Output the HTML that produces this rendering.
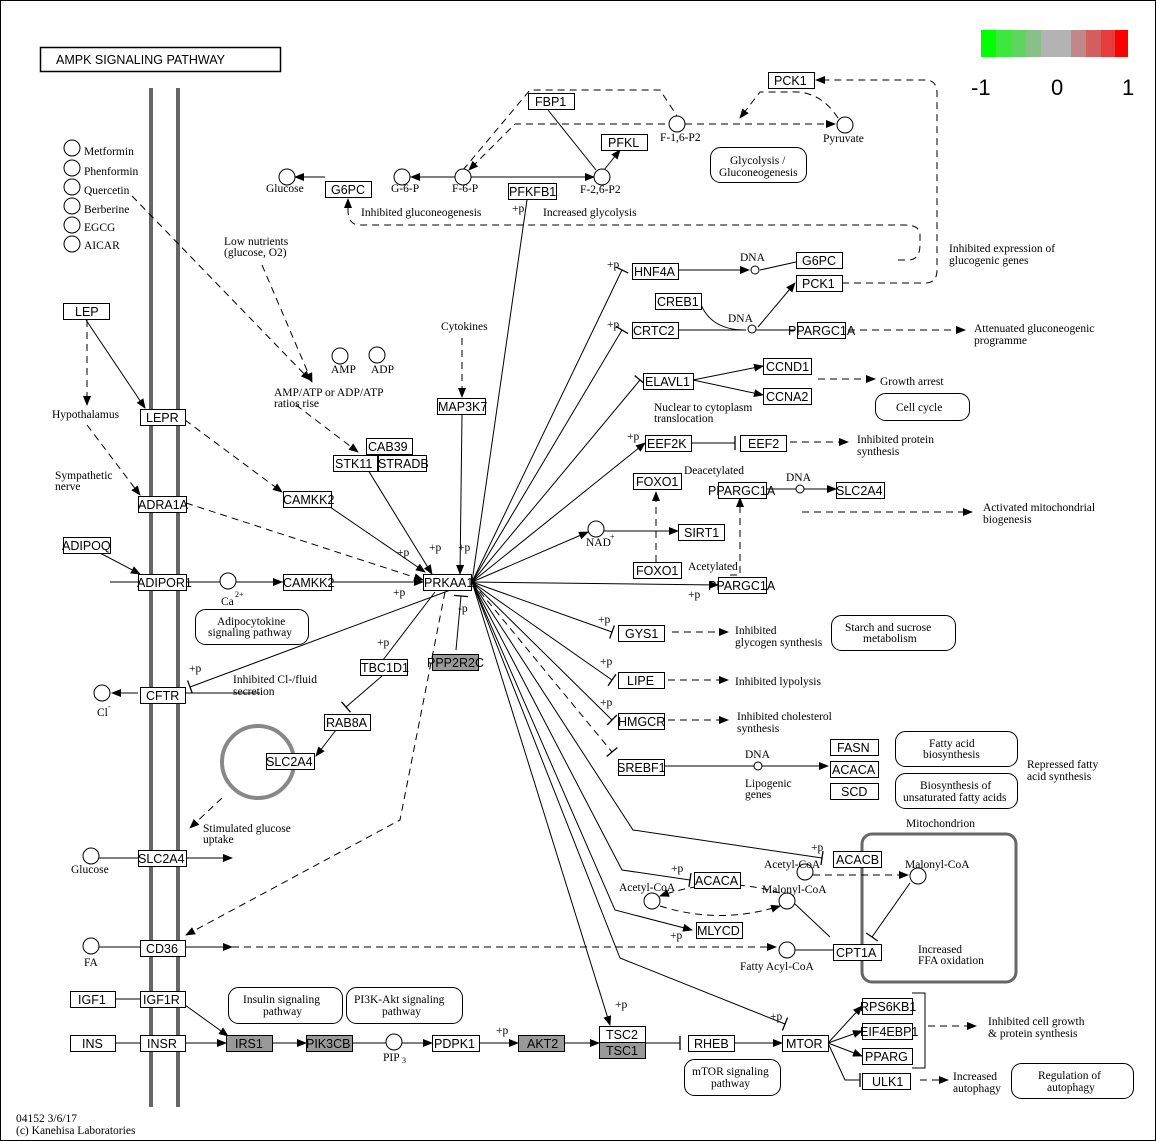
<!DOCTYPE html>
<html><head><meta charset="utf-8">
<style>
html,body{margin:0;padding:0;background:#fff;}
svg{display:block}
.g{font-family:"Liberation Sans",sans-serif;font-size:12.5px;fill:#000}
.l{font-family:"Liberation Serif",serif;font-size:11.5px;fill:#000}
.b{fill:#fff;stroke:#000;stroke-width:1}
.gr{fill:#999;stroke:#000;stroke-width:1}
.c{fill:#fff;stroke:#000;stroke-width:1}
.e{stroke:#000;stroke-width:1;fill:none}
.d{stroke:#000;stroke-width:1;fill:none;stroke-dasharray:7,5}
.r{fill:#fff;stroke:#000;stroke-width:1}
</style></head><body>
<svg width="1156" height="1141" viewBox="0 0 1156 1141" xmlns="http://www.w3.org/2000/svg">
<defs>
<marker id="a" markerWidth="10" markerHeight="8" refX="9" refY="4" orient="auto" markerUnits="userSpaceOnUse"><path d="M0,0L10,4L0,8z" fill="#000"/></marker>
<marker id="t" markerWidth="3" markerHeight="14" refX="1.5" refY="7" orient="auto" markerUnits="userSpaceOnUse"><path d="M1.5,0V14" stroke="#000" stroke-width="1.3"/></marker>
</defs>
<rect x="0.5" y="0.5" width="1155" height="1140" fill="#fff" stroke="#000"/>
<rect x="40.5" y="47.5" width="240" height="24" fill="#fff" stroke="#000" stroke-width="1.5"/>
<text x="56" y="64" class="g" style="font-size:12.5px">AMPK  SIGNALING  PATHWAY</text>
<g>
<rect x="981" y="30" width="15" height="27" fill="#00ff00"/><rect x="996" y="30" width="15" height="27" fill="#3be83b"/><rect x="1011" y="30" width="15" height="27" fill="#5fd45f"/><rect x="1026" y="30" width="15" height="27" fill="#88c088"/><rect x="1041" y="30" width="15" height="27" fill="#b3b3b3"/><rect x="1056" y="30" width="15" height="27" fill="#b3b3b3"/><rect x="1071" y="30" width="15" height="27" fill="#c08888"/><rect x="1086" y="30" width="15" height="27" fill="#d45f5f"/><rect x="1101" y="30" width="14" height="27" fill="#e83b3b"/><rect x="1115" y="30" width="13" height="27" fill="#ff0000"/>
<text x="971" y="95" class="g" style="font-size:22px">-1</text><text x="1051" y="95" class="g" style="font-size:22px">0</text><text x="1122" y="95" class="g" style="font-size:22px">1</text>
</g>
<line x1="151" y1="88" x2="151" y2="1107" stroke="#666" stroke-width="4"/>
<line x1="178" y1="88" x2="178" y2="1107" stroke="#666" stroke-width="4"/>
<rect x="862" y="834" width="154" height="148" rx="10" fill="none" stroke="#666" stroke-width="3"/>
<text x="906" y="827" class="l">Mitochondrion</text>
<circle cx="258" cy="762" r="36" fill="none" stroke="#888" stroke-width="4"/>

<g class="e">
<line x1="472" y1="582" x2="529" y2="186" marker-end="url(#a)"/>
<line x1="472" y1="582" x2="622" y2="270" marker-end="url(#t)"/>
<line x1="472" y1="582" x2="622" y2="330" marker-end="url(#t)"/>
<line x1="472" y1="582" x2="640" y2="380" marker-end="url(#t)"/>
<line x1="472" y1="582" x2="645" y2="443" marker-end="url(#a)"/>
<line x1="472" y1="582" x2="588" y2="532" marker-end="url(#a)"/>
<line x1="472" y1="582" x2="718" y2="585" marker-end="url(#a)"/>
<line x1="472" y1="582" x2="612" y2="632" marker-end="url(#t)"/>
<line x1="472" y1="582" x2="612" y2="680" marker-end="url(#t)"/>
<line x1="472" y1="582" x2="612" y2="720" marker-end="url(#t)"/>
<polyline points="472,582 633,830 822,858" marker-end="url(#t)"/>
<polyline points="472,582 622,870 690,880" marker-end="url(#t)"/>
<polyline points="472,582 615,910 692,930" marker-end="url(#a)"/>
<line x1="472" y1="582" x2="610" y2="1025" marker-end="url(#a)"/>
<polyline points="472,582 620,958 785,1024" marker-end="url(#t)"/>
<line x1="456" y1="650" x2="461" y2="596" marker-end="url(#t)"/>
<line x1="383" y1="660" x2="435" y2="592"/>
<line x1="472" y1="582" x2="190" y2="687" marker-end="url(#t)"/>
<line x1="368" y1="470" x2="432" y2="574" marker-end="url(#a)"/>
<line x1="462" y1="414" x2="460" y2="574" marker-end="url(#a)"/>
<line x1="330" y1="507" x2="425" y2="572" marker-end="url(#a)"/>
<line x1="186" y1="582" x2="423" y2="582" marker-end="url(#a)"/>
<line x1="110" y1="582" x2="138" y2="582"/>
<line x1="186" y1="582" x2="220" y2="582"/>
<line x1="236" y1="582" x2="282" y2="582" marker-end="url(#a)"/>
<line x1="86" y1="320" x2="145" y2="408" marker-end="url(#a)"/>
<line x1="100" y1="553" x2="140" y2="574" marker-end="url(#a)"/>
<line x1="138" y1="693" x2="112" y2="693" marker-end="url(#a)"/>
<line x1="186" y1="693" x2="260" y2="693"/>
<line x1="382" y1="676" x2="346" y2="707" marker-end="url(#t)"/>
<line x1="336" y1="730" x2="316" y2="756" marker-end="url(#a)"/>
<line x1="99" y1="858" x2="138" y2="858"/>
<line x1="186" y1="858" x2="232" y2="858" marker-end="url(#a)"/>
<line x1="99" y1="947" x2="140" y2="947"/>
<line x1="186" y1="947" x2="232" y2="947" marker-end="url(#a)"/>
<line x1="115" y1="999" x2="140" y2="999"/>
<line x1="115" y1="1043" x2="140" y2="1043"/>
<line x1="185" y1="1043" x2="226" y2="1043" marker-end="url(#a)"/>
<line x1="185" y1="1005" x2="228" y2="1036" marker-end="url(#a)"/>
<line x1="272" y1="1043" x2="306" y2="1043" marker-end="url(#a)"/>
<line x1="352" y1="1043" x2="386" y2="1043"/>
<line x1="402" y1="1043" x2="432" y2="1043" marker-end="url(#a)"/>
<line x1="479" y1="1043" x2="518" y2="1043" marker-end="url(#a)"/>
<line x1="564" y1="1043" x2="599" y2="1043" marker-end="url(#a)"/>
<line x1="645" y1="1043" x2="680" y2="1043" marker-end="url(#t)"/>
<line x1="734" y1="1043" x2="782" y2="1043" marker-end="url(#a)"/>
<line x1="828" y1="1043" x2="862" y2="1006" marker-end="url(#a)"/>
<line x1="828" y1="1043" x2="862" y2="1031" marker-end="url(#a)"/>
<line x1="828" y1="1043" x2="862" y2="1056" marker-end="url(#a)"/>
<polyline points="828,1043 845,1080 860,1080" marker-end="url(#t)"/>
<polyline points="912,993 925,993 925,1068 912,1068"/>
<line x1="325" y1="177" x2="295" y2="177" marker-end="url(#a)"/>
<line x1="455" y1="177" x2="411" y2="177" marker-end="url(#a)"/>
<line x1="471" y1="177" x2="594" y2="177" marker-end="url(#a)"/>
<line x1="548" y1="110" x2="596" y2="170"/>
<line x1="604" y1="170" x2="620" y2="150" marker-end="url(#a)"/>
<line x1="678" y1="270" x2="749" y2="270" marker-end="url(#a)"/>
<line x1="760" y1="270" x2="796" y2="262"/>
<line x1="758" y1="327" x2="795" y2="283" marker-end="url(#a)"/>
<line x1="678" y1="330" x2="746" y2="330"/>
<path d="M700,302 Q710,330 745,330"/>
<line x1="756" y1="330" x2="795" y2="330"/>
<line x1="693" y1="380" x2="763" y2="366" marker-end="url(#a)"/>
<line x1="693" y1="380" x2="763" y2="395" marker-end="url(#a)"/>
<line x1="691" y1="443" x2="735" y2="443" marker-end="url(#t)"/>
<line x1="604" y1="531" x2="678" y2="531" marker-end="url(#a)"/>
<line x1="766" y1="489" x2="796" y2="489"/>
<line x1="804" y1="489" x2="836" y2="489" marker-end="url(#a)"/>
<line x1="664" y1="766" x2="754" y2="766"/>
<line x1="762" y1="766" x2="828" y2="766" marker-end="url(#a)"/>
<line x1="910" y1="883" x2="872" y2="937" marker-end="url(#t)"/>
<line x1="795" y1="904" x2="830" y2="937"/>
<line x1="795" y1="950" x2="833" y2="950"/>
</g>
<g class="d">
<path d="M463,170 L530,90 L660,90 L677,116" />
<path d="M677,124 L515,124 L469,170" marker-end="url(#a)"/>
<line x1="685" y1="124" x2="835" y2="124" marker-end="url(#a)"/>
<path d="M838,118 Q820,90 790,92 L760,92 L740,118" marker-end="url(#a)"/>
<path d="M898,260 L908,260 Q920,260 920,245 L920,235 Q920,225 905,225 L360,225 Q348,225 348,210 L348,199" marker-end="url(#a)"/>
<path d="M842,283 L925,283 Q937,283 937,270 L937,93 Q937,80 925,80 L816,80" marker-end="url(#a)"/>
<line x1="848" y1="330" x2="965" y2="330" marker-end="url(#a)"/>
<line x1="818" y1="379" x2="875" y2="379" marker-end="url(#a)"/>
<line x1="790" y1="442" x2="848" y2="442" marker-end="url(#a)"/>
<line x1="802" y1="512" x2="972" y2="512" marker-end="url(#a)"/>
<line x1="656" y1="562" x2="656" y2="492" marker-end="url(#a)"/>
<polyline points="730,575 740,575 740,498" marker-end="url(#a)"/>
<line x1="672" y1="632" x2="728" y2="632" marker-end="url(#a)"/>
<line x1="668" y1="680" x2="728" y2="680" marker-end="url(#a)"/>
<line x1="668" y1="720" x2="728" y2="720" marker-end="url(#a)"/>
<line x1="472" y1="582" x2="612" y2="752" marker-end="url(#t)"/>
<line x1="813" y1="875" x2="908" y2="875" marker-end="url(#a)"/>
<path d="M780,893 Q720,875 660,896" marker-end="url(#a)"/>
<path d="M660,906 Q720,925 780,906" marker-end="url(#a)"/>
<line x1="928" y1="1026" x2="976" y2="1026" marker-end="url(#a)"/>
<line x1="920" y1="1080" x2="948" y2="1080" marker-end="url(#a)"/>
<line x1="232" y1="947" x2="776" y2="947" marker-end="url(#a)"/>
<path d="M132,196 L310,380" marker-end="url(#a)"/>
<line x1="262" y1="265" x2="312" y2="382" marker-end="url(#a)"/>
<line x1="296" y1="405" x2="358" y2="452" marker-end="url(#a)"/>
<line x1="462" y1="338" x2="462" y2="397" marker-end="url(#a)"/>
<line x1="87" y1="320" x2="87" y2="405" marker-end="url(#a)"/>
<line x1="87" y1="425" x2="140" y2="495" marker-end="url(#a)"/>
<line x1="185" y1="420" x2="282" y2="492" marker-end="url(#a)"/>
<line x1="186" y1="503" x2="423" y2="580" marker-end="url(#a)"/>
<path d="M445,592 L400,820 L186,935" marker-end="url(#a)"/>
<line x1="222" y1="798" x2="190" y2="828" marker-end="url(#a)"/>
</g>

<g>
<rect class="b" x="63.5" y="303.5" width="46" height="16"/><text class="g" x="75" y="316">LEP</text>
<rect class="b" x="140.5" y="409.5" width="45" height="16"/><text class="g" x="146" y="422">LEPR</text>
<rect class="b" x="138.5" y="496.5" width="48" height="16"/><text class="g" x="138" y="509">ADRA1A</text>
<rect class="b" x="63.5" y="537.5" width="47" height="16"/><text class="g" x="62" y="550">ADIPOQ</text>
<rect class="b" x="138.5" y="574.5" width="48" height="16"/><text class="g" x="137" y="587">ADIPOR1</text>
<rect class="b" x="140.5" y="687.5" width="45" height="16"/><text class="g" x="146" y="700">CFTR</text>
<rect class="b" x="138.5" y="850.5" width="48" height="16"/><text class="g" x="138" y="863">SLC2A4</text>
<rect class="b" x="140.5" y="940.5" width="45" height="16"/><text class="g" x="146" y="953">CD36</text>
<rect class="b" x="70.5" y="991.5" width="45" height="16"/><text class="g" x="78" y="1004">IGF1</text>
<rect class="b" x="140.5" y="991.5" width="45" height="16"/><text class="g" x="143" y="1004">IGF1R</text>
<rect class="b" x="70.5" y="1035.5" width="45" height="16"/><text class="g" x="82" y="1048">INS</text>
<rect class="b" x="140.5" y="1035.5" width="45" height="16"/><text class="g" x="147" y="1048">INSR</text>
<rect class="gr" x="226.5" y="1035.5" width="46" height="16"/><text class="g" x="235" y="1048">IRS1</text>
<rect class="gr" x="306.5" y="1035.5" width="46" height="16"/><text class="g" x="306" y="1048">PIK3CB</text>
<rect class="b" x="432.5" y="1035.5" width="47" height="16"/><text class="g" x="434" y="1048">PDPK1</text>
<rect class="gr" x="518.5" y="1035.5" width="46" height="16"/><text class="g" x="527" y="1048">AKT2</text>
<rect class="b" x="599.5" y="1026.5" width="46" height="16"/><text class="g" x="606" y="1039">TSC2</text>
<rect class="gr" x="599.5" y="1042.5" width="46" height="16"/><text class="g" x="606" y="1055">TSC1</text>
<rect class="b" x="688.5" y="1035.5" width="46" height="16"/><text class="g" x="694" y="1048">RHEB</text>
<rect class="b" x="782.5" y="1035.5" width="46" height="16"/><text class="g" x="786" y="1048">MTOR</text>
<rect class="b" x="862.5" y="998.5" width="50" height="16"/><text class="g" x="860" y="1011">RPS6KB1</text>
<rect class="b" x="862.5" y="1023.5" width="50" height="16"/><text class="g" x="860" y="1036">EIF4EBP1</text>
<rect class="b" x="862.5" y="1048.5" width="50" height="16"/><text class="g" x="865" y="1061">PPARG</text>
<rect class="b" x="862.5" y="1073.5" width="48" height="16"/><text class="g" x="872" y="1086">ULK1</text>
<rect class="b" x="325.5" y="181.5" width="46" height="16"/><text class="g" x="331" y="194">G6PC</text>
<rect class="b" x="508.5" y="183.5" width="48" height="16"/><text class="g" x="509" y="196">PFKFB1</text>
<rect class="b" x="528.5" y="93.5" width="46" height="16"/><text class="g" x="535" y="106">FBP1</text>
<rect class="b" x="601.5" y="134.5" width="46" height="16"/><text class="g" x="608" y="147">PFKL</text>
<rect class="b" x="768.5" y="72.5" width="46" height="16"/><text class="g" x="774" y="85">PCK1</text>
<rect class="b" x="632.5" y="263.5" width="46" height="16"/><text class="g" x="634" y="276">HNF4A</text>
<rect class="b" x="655.5" y="293.5" width="46" height="16"/><text class="g" x="657" y="306">CREB1</text>
<rect class="b" x="632.5" y="322.5" width="46" height="16"/><text class="g" x="633" y="335">CRTC2</text>
<rect class="b" x="796.5" y="252.5" width="46" height="16"/><text class="g" x="802" y="265">G6PC</text>
<rect class="b" x="796.5" y="275.5" width="46" height="16"/><text class="g" x="802" y="288">PCK1</text>
<rect class="b" x="797.5" y="322.5" width="48" height="16"/><text class="g" x="788" y="335">PPARGC1A</text>
<rect class="b" x="643.5" y="373.5" width="50" height="16"/><text class="g" x="645" y="386">ELAVL1</text>
<rect class="b" x="763.5" y="358.5" width="48" height="16"/><text class="g" x="766" y="371">CCND1</text>
<rect class="b" x="763.5" y="388.5" width="48" height="16"/><text class="g" x="766" y="401">CCNA2</text>
<rect class="b" x="437.5" y="398.5" width="48" height="16"/><text class="g" x="438" y="411">MAP3K7</text>
<rect class="b" x="366.5" y="438.5" width="46" height="16"/><text class="g" x="368" y="451">CAB39</text>
<rect class="b" x="333.5" y="455.5" width="44" height="16"/><text class="g" x="335" y="468">STK11</text>
<rect class="b" x="378.5" y="455.5" width="48" height="16"/><text class="g" x="378" y="468">STRADB</text>
<rect class="b" x="283.5" y="491.5" width="48" height="16"/><text class="g" x="283" y="504">CAMKK2</text>
<rect class="b" x="283.5" y="574.5" width="48" height="16"/><text class="g" x="283" y="587">CAMKK2</text>
<rect class="b" x="423.5" y="574.5" width="48" height="16"/><text class="g" x="424" y="587">PRKAA1</text>
<rect class="gr" x="432.5" y="654.5" width="46" height="16"/><text class="g" x="427" y="667">PPP2R2C</text>
<rect class="b" x="360.5" y="659.5" width="47" height="16"/><text class="g" x="361" y="672">TBC1D1</text>
<rect class="b" x="324.5" y="714.5" width="46" height="16"/><text class="g" x="326" y="727">RAB8A</text>
<rect class="b" x="266.5" y="753.5" width="48" height="16"/><text class="g" x="266" y="766">SLC2A4</text>
<rect class="b" x="645.5" y="435.5" width="46" height="16"/><text class="g" x="647" y="448">EEF2K</text>
<rect class="b" x="740.5" y="435.5" width="46" height="16"/><text class="g" x="748" y="448">EEF2</text>
<rect class="b" x="633.5" y="473.5" width="48" height="16"/><text class="g" x="636" y="486">FOXO1</text>
<rect class="b" x="633.5" y="562.5" width="48" height="16"/><text class="g" x="636" y="575">FOXO1</text>
<rect class="b" x="678.5" y="524.5" width="46" height="16"/><text class="g" x="684" y="537">SIRT1</text>
<rect class="b" x="718.5" y="482.5" width="48" height="16"/><text class="g" x="708" y="495">PPARGC1A</text>
<rect class="b" x="836.5" y="482.5" width="48" height="16"/><text class="g" x="836" y="495">SLC2A4</text>
<rect class="b" x="718.5" y="577.5" width="48" height="16"/><text class="g" x="708" y="590">PPARGC1A</text>
<rect class="b" x="618.5" y="625.5" width="46" height="16"/><text class="g" x="625" y="638">GYS1</text>
<rect class="b" x="618.5" y="672.5" width="46" height="16"/><text class="g" x="627" y="685">LIPE</text>
<rect class="b" x="618.5" y="713.5" width="46" height="16"/><text class="g" x="618" y="726">HMGCR</text>
<rect class="b" x="618.5" y="759.5" width="46" height="16"/><text class="g" x="617" y="772">SREBF1</text>
<rect class="b" x="830.5" y="739.5" width="48" height="16"/><text class="g" x="837" y="752">FASN</text>
<rect class="b" x="830.5" y="761.5" width="48" height="16"/><text class="g" x="832" y="774">ACACA</text>
<rect class="b" x="830.5" y="783.5" width="48" height="16"/><text class="g" x="841" y="796">SCD</text>
<rect class="b" x="833.5" y="851.5" width="48" height="16"/><text class="g" x="836" y="864">ACACB</text>
<rect class="b" x="694.5" y="872.5" width="46" height="16"/><text class="g" x="695" y="885">ACACA</text>
<rect class="b" x="696.5" y="922.5" width="46" height="16"/><text class="g" x="697" y="935">MLYCD</text>
<rect class="b" x="833.5" y="944.5" width="48" height="16"/><text class="g" x="836" y="957">CPT1A</text>
</g>

<g>
<circle class="c" cx="72" cy="148" r="8"/><circle class="c" cx="72" cy="168" r="8"/><circle class="c" cx="72" cy="187" r="8"/><circle class="c" cx="72" cy="206" r="8"/><circle class="c" cx="72" cy="225" r="8"/><circle class="c" cx="72" cy="244" r="8"/>
<text class="l" x="84" y="155">Metformin</text><text class="l" x="84" y="175">Phenformin</text><text class="l" x="84" y="194">Quercetin</text><text class="l" x="84" y="213">Berberine</text><text class="l" x="84" y="231">EGCG</text><text class="l" x="84" y="249">AICAR</text>
<circle class="c" cx="287" cy="177" r="8"/><circle class="c" cx="402" cy="177" r="8"/><circle class="c" cx="463" cy="177" r="8"/><circle class="c" cx="602" cy="177" r="8"/><circle class="c" cx="677" cy="124" r="8"/><circle class="c" cx="845" cy="125" r="8"/>
<circle class="c" cx="340" cy="356" r="8"/><circle class="c" cx="377" cy="355" r="8"/><circle class="c" cx="228" cy="581" r="8"/><circle class="c" cx="596" cy="529" r="8"/>
<circle class="c" cx="755" cy="270" r="4"/><circle class="c" cx="752" cy="329" r="4"/><circle class="c" cx="800" cy="489" r="4"/><circle class="c" cx="758" cy="766" r="4"/>
<circle class="c" cx="102" cy="693" r="8"/><circle class="c" cx="91" cy="856" r="8"/><circle class="c" cx="91" cy="946" r="8"/><circle class="c" cx="394" cy="1042" r="8"/>
<circle class="c" cx="805" cy="872" r="8"/><circle class="c" cx="918" cy="876" r="8"/><circle class="c" cx="652" cy="901" r="8"/><circle class="c" cx="787" cy="901" r="8"/><circle class="c" cx="787" cy="950" r="8"/>
</g>

<g>
<rect class="r" x="710.5" y="147.5" width="96" height="35" rx="10"/><text class="l" x="730" y="164">Glycolysis /</text><text class="l" x="719" y="176">Gluconeogenesis</text>
<rect class="r" x="875.5" y="393.5" width="94" height="27" rx="10"/><text class="l" x="896" y="411">Cell cycle</text>
<rect class="r" x="195.5" y="609.5" width="113" height="35" rx="10"/><text class="l" x="217" y="625">Adipocytokine</text><text class="l" x="208" y="636">signaling pathway</text>
<rect class="r" x="831.5" y="615.5" width="124" height="35" rx="10"/><text class="l" x="845" y="631">Starch and sucrose</text><text class="l" x="863" y="642">metabolism</text>
<rect class="r" x="895.5" y="731.5" width="122" height="35" rx="10"/><text class="l" x="929" y="747">Fatty acid</text><text class="l" x="923" y="758">biosynthesis</text>
<rect class="r" x="895.5" y="773.5" width="122" height="35" rx="10"/><text class="l" x="920" y="789">Biosynthesis of</text><text class="l" x="903" y="801">unsaturated fatty acids</text>
<rect class="r" x="228.5" y="987.5" width="114" height="36" rx="10"/><text class="l" x="243" y="1003">Insulin signaling</text><text class="l" x="263" y="1015">pathway</text>
<rect class="r" x="346.5" y="987.5" width="116" height="36" rx="10"/><text class="l" x="354" y="1003">PI3K-Akt signaling</text><text class="l" x="382" y="1015">pathway</text>
<rect class="r" x="684.5" y="1059.5" width="96" height="36" rx="10"/><text class="l" x="692" y="1075">mTOR signaling</text><text class="l" x="711" y="1087">pathway</text>
<rect class="r" x="1011.5" y="1063.5" width="122" height="35" rx="10"/><text class="l" x="1038" y="1079">Regulation of</text><text class="l" x="1047" y="1091">autophagy</text>
</g>

<g class="l">
<text x="266" y="192">Glucose</text><text x="391" y="192">G-6-P</text><text x="452" y="192">F-6-P</text><text x="580" y="193">F-2,6-P2</text><text x="660" y="141">F-1,6-P2</text><text x="823" y="142">Pyruvate</text>
<text x="361" y="216">Inhibited gluconeogenesis</text><text x="543" y="216">Increased glycolysis</text><text x="512" y="212">+p</text>
<text x="224" y="245">Low nutrients</text><text x="224" y="256">(glucose, O2)</text>
<text x="441" y="330">Cytokines</text>
<text x="331" y="373">AMP</text><text x="371" y="373">ADP</text>
<text x="274" y="396">AMP/ATP or ADP/ATP</text><text x="274" y="407">ratios rise</text>
<text x="52" y="418">Hypothalamus</text>
<text x="55" y="479">Sympathetic</text><text x="55" y="490">nerve</text>
<text x="221" y="605">Ca</text><text x="235" y="597" style="font-size:8px">2+</text>
<text x="586" y="546">NAD</text><text x="610" y="539" style="font-size:8px">+</text>
<text x="949" y="252">Inhibited expression of</text><text x="949" y="264">glucogenic genes</text>
<text x="740" y="261">DNA</text><text x="728" y="322">DNA</text><text x="786" y="481">DNA</text><text x="745" y="758">DNA</text>
<text x="974" y="332">Attenuated gluconeogenic</text><text x="974" y="344">programme</text>
<text x="880" y="385">Growth arrest</text>
<text x="654" y="411">Nuclear to cytoplasm</text><text x="654" y="422">translocation</text>
<text x="857" y="443">Inhibited protein</text><text x="857" y="455">synthesis</text>
<text x="684" y="474">Deacetylated</text><text x="688" y="570">Acetylated</text>
<text x="983" y="511">Activated mitochondrial</text><text x="983" y="523">biogenesis</text>
<text x="735" y="634">Inhibited</text><text x="735" y="646">glycogen synthesis</text>
<text x="735" y="685">Inhibited lypolysis</text>
<text x="737" y="720">Inhibited cholesterol</text><text x="737" y="732">synthesis</text>
<text x="745" y="787">Lipogenic</text><text x="745" y="798">genes</text>
<text x="1027" y="768">Repressed fatty</text><text x="1027" y="780">acid synthesis</text>
<text x="233" y="683">Inhibited Cl-/fluid</text><text x="233" y="695">secretion</text>
<text x="97" y="716">Cl</text><text x="108" y="709" style="font-size:8px">-</text>
<text x="203" y="832">Stimulated glucose</text><text x="203" y="843">uptake</text>
<text x="71" y="873">Glucose</text><text x="84" y="966">FA</text>
<text x="764" y="868">Acetyl-CoA</text><text x="905" y="868">Malonyl-CoA</text>
<text x="619" y="891">Acetyl-CoA</text><text x="762" y="893">Malonyl-CoA</text>
<text x="740" y="970">Fatty Acyl-CoA</text>
<text x="918" y="953">Increased</text><text x="918" y="964">FFA oxidation</text>
<text x="383" y="1061">PIP</text><text x="402" y="1063" style="font-size:8px">3</text>
<text x="988" y="1025">Inhibited cell growth</text><text x="988" y="1037">&amp; protein synthesis</text>
<text x="953" y="1080">Increased</text><text x="953" y="1092">autophagy</text>
<text x="16" y="1122">04152 3/6/17</text><text x="16" y="1134">(c) Kanehisa Laboratories</text>
<text x="607" y="268">+p</text><text x="607" y="328">+p</text><text x="627" y="440">+p</text><text x="598" y="623">+p</text><text x="600" y="665">+p</text><text x="600" y="706">+p</text>
<text x="397" y="556">+p</text><text x="429" y="551">+p</text><text x="458" y="551">+p</text><text x="393" y="596">+p</text><text x="688" y="598">+p</text>
<text x="377" y="646">+p</text><text x="458" y="612">-p</text><text x="189" y="672">+p</text>
<text x="811" y="851">+p</text><text x="671" y="872">+p</text><text x="670" y="939">+p</text><text x="615" y="1008">+p</text><text x="770" y="1020">+p</text><text x="496" y="1034">+p</text>
</g>
</svg>
</body></html>
